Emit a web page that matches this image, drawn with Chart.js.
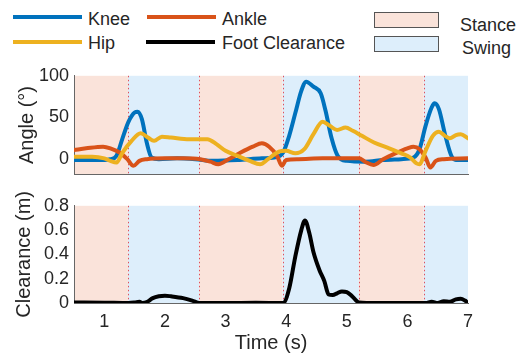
<!DOCTYPE html>
<html>
<head>
<meta charset="utf-8">
<script src="https://cdn.jsdelivr.net/npm/chart.js@4/dist/chart.umd.min.js"></script>
<style>
  html, body { margin: 0; padding: 0; background: #fff; width: 519px; height: 355px; overflow: hidden;
    font-family: "Liberation Sans", Arial, sans-serif; color: #262626; }
  canvas { position: absolute; left: 0; }
  #angleChart { top: 60px; }
  #clearChart { top: 190px; }
  .sw { position: absolute; height: 4px; }
  .lt { position: absolute; font-size: 18px; line-height: 20px; white-space: nowrap; }
  .box { position: absolute; width: 63px; height: 14px; border: 1px solid #555; }
</style>
</head>
<body>
<!-- legend: joint angles and foot clearance -->
<div class="sw" style="left:13px;top:15px;width:69px;background:#0072BD"></div>
<div class="lt" style="left:88px;top:9px">Knee</div>
<div class="sw" style="left:147px;top:15px;width:69px;background:#D95319"></div>
<div class="lt" style="left:222px;top:9px">Ankle</div>
<div class="sw" style="left:13px;top:40px;width:69px;background:#EDB120"></div>
<div class="lt" style="left:88px;top:33px">Hip</div>
<div class="sw" style="left:146px;top:40px;width:69px;background:#000"></div>
<div class="lt" style="left:222px;top:33px">Foot Clearance</div>
<!-- legend: gait phases -->
<div class="box" style="left:374px;top:12px;background:#FAE3DA"></div>
<div class="lt" style="left:460px;top:15px">Stance</div>
<div class="box" style="left:374px;top:36px;background:#DDEEFB"></div>
<div class="lt" style="left:462px;top:38px">Swing</div>

<canvas id="angleChart" width="519" height="130"></canvas>
<canvas id="clearChart" width="519" height="165"></canvas>

<script>
// Time axis ticks and gait phase boundaries (s)
const timeTicks = [1, 2, 3, 4, 5, 6, 7];
const angleTicks = [0, 50, 100];
const clearanceTicks = [0, 0.2, 0.4, 0.6, 0.8];
const phaseBounds = [0.5, 1.39, 2.57, 3.94, 5.2, 6.27, 7];
const phaseKinds = ['stance', 'swing', 'stance', 'swing', 'stance', 'swing'];

// Knee angle (deg)
const kneeT = [0.5, 0.8, 1.0, 1.1, 1.2, 1.3, 1.4, 1.5, 1.55, 1.62, 1.7, 1.78, 1.9, 2.2, 2.5, 2.8, 3.2, 3.6, 3.8, 3.95,
  4.05, 4.15, 4.25, 4.33, 4.45, 4.57, 4.65, 4.75, 4.85, 5.0, 5.3, 5.6, 5.9, 6.1, 6.2, 6.3, 6.4, 6.45, 6.52, 6.62, 6.72, 6.8, 7.0];
const knee = [-1, -1, -1, 0, 4, 25, 45, 56, 57, 48, 20, 2, 0, 1, 0, -2, -1, 1, 2, 8,
  28, 55, 82, 93, 87, 79, 58, 25, 4, -2, -3, -1, 0, 2, 12, 40, 62, 67, 60, 30, 5, -1, -1];

// Hip angle (deg)
const hipT = [0.5, 0.8, 1.0, 1.1, 1.2, 1.3, 1.45, 1.6, 1.72, 1.82, 1.95, 2.1, 2.4, 2.7, 2.85, 3.0, 3.2, 3.4, 3.57, 3.7,
  3.88, 4.0, 4.15, 4.3, 4.45, 4.6, 4.72, 4.84, 4.98, 5.1, 5.25, 5.45, 5.7, 5.9, 6.05, 6.15, 6.2, 6.3, 6.42, 6.52, 6.62,
  6.7, 6.8, 6.88, 7.0];
const hip = [3, 3, 1, -2, -4, 8, 22, 31, 26, 22, 27, 26, 24, 24, 18, 10, 4, -2, -6, 0,
  9, 10, 7, 12, 30, 45, 40, 35, 38, 34, 28, 20, 13, 7, 2, -5, -6, 10, 28, 33, 28,
  25, 29, 30, 25];

// Ankle angle (deg)
const ankleT = [0.5, 0.7, 0.98, 1.1, 1.25, 1.38, 1.48, 1.58, 1.7, 2.0, 2.3, 2.58, 2.75, 2.88, 3.05, 3.25, 3.45, 3.6, 3.72,
  3.85, 3.93, 4.0, 4.2, 4.6, 5.2, 5.3, 5.44, 5.6, 5.8, 6.0, 6.1, 6.2, 6.3, 6.38, 6.47, 6.6, 7.0];
const ankle = [11, 13, 15, 13, 8, 0, -8, -2, 0, 1, 1, 0, -3, -6, 0, 8, 15, 19, 15,
  4, -8, -1, 0, 1, 1, -3, -7, 0, 7, 13, 15, 12, 2, -10, -2, 0, 1];

// Foot clearance (m)
const clearT = [0.5, 1.0, 1.4, 1.5, 1.58, 1.63, 1.7, 1.8, 1.9, 2.0, 2.1, 2.3, 2.45, 2.57, 3.0, 3.5, 3.95,
  4.05, 4.15, 4.25, 4.31, 4.38, 4.45, 4.55, 4.63, 4.7, 4.77, 4.84, 4.92, 5.0, 5.1, 5.2, 5.5, 6.0, 6.3,
  6.4, 6.5, 6.6, 6.7, 6.8, 6.88, 6.95, 7.0];
const clearance = [0.005, 0.003, 0.0, 0.004, 0.01, 0.0, 0.008, 0.04, 0.055, 0.06, 0.055, 0.04, 0.02, 0.0, 0.0, 0.002, 0.0,
  0.12, 0.38, 0.6, 0.68, 0.58, 0.42, 0.27, 0.18, 0.07, 0.065, 0.08, 0.095, 0.09, 0.05, 0.005, 0.0, 0.0, 0.0,
  0.01, 0.0, 0.015, 0.01, 0.03, 0.035, 0.02, 0.0];

const STANCE = '#FAE3DA';
const SWING = '#DDEEFB';
const FONT = '"Liberation Sans", Arial, sans-serif';
const TEXT = '#262626';
const AXIS = '#666666';

const pts = (t, v) => t.map((x, i) => ({ x, y: v[i] }));

// Shaded stance/swing bands with dotted phase boundaries
const phasePlugin = {
  id: 'phases',
  beforeDraw(chart) {
    const { ctx, chartArea: a, scales: { x } } = chart;
    ctx.save();
    for (let i = 0; i < phaseKinds.length; i++) {
      const x0 = x.getPixelForValue(phaseBounds[i]);
      const x1 = x.getPixelForValue(phaseBounds[i + 1]);
      ctx.fillStyle = phaseKinds[i] === 'stance' ? STANCE : SWING;
      ctx.fillRect(x0, a.top, x1 - x0, a.bottom - a.top);
    }
    ctx.strokeStyle = '#E0505A';
    ctx.lineWidth = 1;
    ctx.setLineDash([1.5, 2.5]);
    for (let i = 1; i < phaseBounds.length - 1; i++) {
      const px = Math.round(x.getPixelForValue(phaseBounds[i])) + 0.5;
      ctx.beginPath();
      ctx.moveTo(px, a.top);
      ctx.lineTo(px, a.bottom);
      ctx.stroke();
    }
    ctx.restore();
  }
};

const lineDs = (label, data, color, order) => ({
  label, data, borderColor: color, backgroundColor: color, borderWidth: 4,
  pointRadius: 0, cubicInterpolationMode: 'monotone', fill: false, order,
  borderCapStyle: 'round', borderJoinStyle: 'round'
});

Chart.defaults.font.family = FONT;
Chart.defaults.color = TEXT;

new Chart(document.getElementById('angleChart'), {
  type: 'line',
  data: {
    datasets: [
      lineDs('Knee', pts(kneeT, knee), '#0072BD', 3),
      lineDs('Ankle', pts(ankleT, ankle), '#D95319', 2),
      lineDs('Hip', pts(hipT, hip), '#EDB120', 1)
    ]
  },
  plugins: [phasePlugin],
  options: {
    responsive: false, animation: false, devicePixelRatio: 1,
    layout: { padding: { top: 15, right: 51, left: 0, bottom: 0 } },
    plugins: { legend: { display: false }, tooltip: { enabled: false } },
    scales: {
      x: {
        type: 'linear', min: 0.5, max: 7,
        grid: { display: false, drawTicks: false },
        border: { display: true, color: AXIS, width: 1 },
        ticks: { display: false },
        afterFit(s) { s.height = 14; }
      },
      y: {
        min: -18, max: 100,
        grid: { display: false, drawTicks: false },
        border: { display: true, color: AXIS, width: 1 },
        ticks: { font: { size: 18 }, color: TEXT, padding: 5, autoSkip: false },
        afterBuildTicks(s) { s.ticks = angleTicks.map(v => ({ value: v })); },
        afterFit(s) { s.width = 74; },
        title: { display: true, text: 'Angle (°)', font: { size: 20 }, color: TEXT, padding: { top: 15, bottom: 0 } }
      }
    }
  }
});

new Chart(document.getElementById('clearChart'), {
  type: 'line',
  data: {
    datasets: [lineDs('Foot Clearance', pts(clearT, clearance), '#000000', 1)]
  },
  plugins: [phasePlugin],
  options: {
    responsive: false, animation: false, devicePixelRatio: 1,
    layout: { padding: { top: 13, right: 51, left: 0, bottom: 0 } },
    plugins: { legend: { display: false }, tooltip: { enabled: false } },
    scales: {
      x: {
        type: 'linear', min: 0.5, max: 7,
        grid: { display: false, drawTicks: false },
        border: { display: true, color: AXIS, width: 1 },
        ticks: { font: { size: 18 }, color: TEXT, padding: 8, autoSkip: false, maxRotation: 0 },
        afterBuildTicks(s) { s.ticks = timeTicks.map(v => ({ value: v })); },
        afterFit(s) { s.height = 52; },
        title: { display: true, text: 'Time (s)', font: { size: 20 }, color: TEXT, padding: { top: 0, bottom: 0 } }
      },
      y: {
        min: 0, max: 0.8,
        grid: { display: false, drawTicks: false },
        border: { display: true, color: AXIS, width: 1 },
        ticks: { font: { size: 18 }, color: TEXT, padding: 5, autoSkip: false, callback: v => String(v) },
        afterBuildTicks(s) { s.ticks = clearanceTicks.map(v => ({ value: v })); },
        afterFit(s) { s.width = 74; },
        title: { display: true, text: 'Clearance (m)', font: { size: 20 }, color: TEXT, padding: { top: 12, bottom: 0 } }
      }
    }
  }
});
</script>
</body>
</html>
